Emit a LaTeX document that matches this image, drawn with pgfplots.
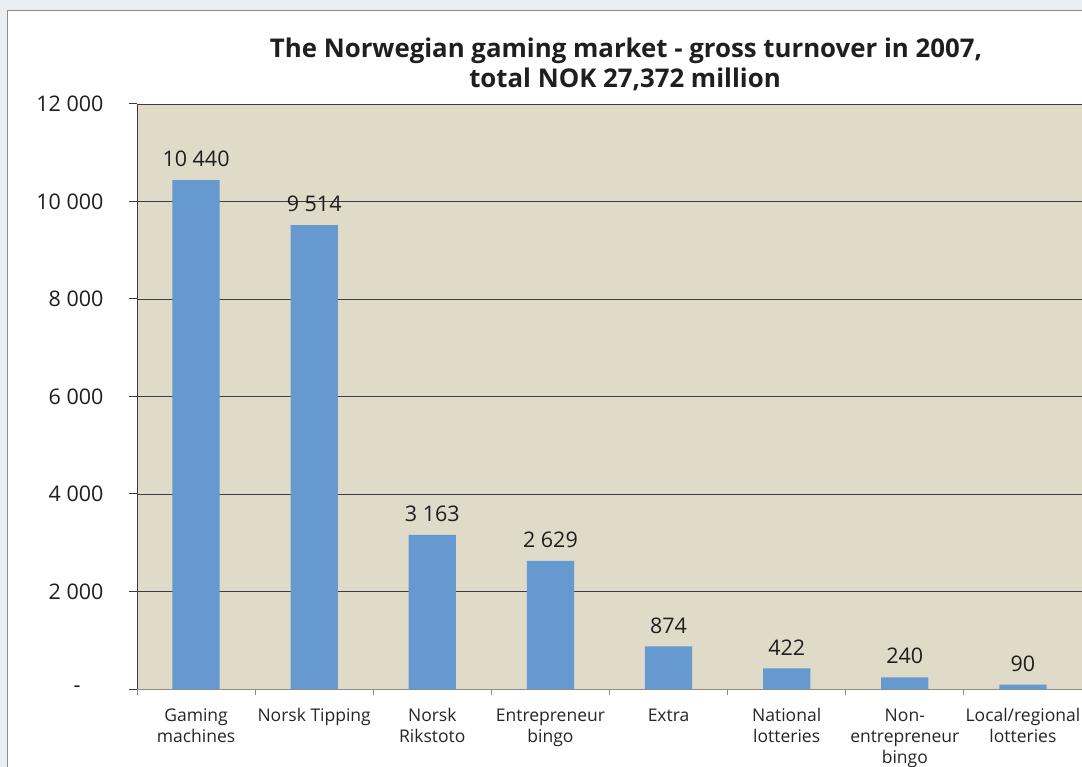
\documentclass[border=0pt]{standalone}
\usepackage{pgfplots}
\pgfplotsset{compat=1.18}
\usepackage{fontspec}
\setmainfont{Open Sans}

\definecolor{pagebg}{HTML}{E9EEF2}
\definecolor{panelborder}{HTML}{8C8C8C}
\definecolor{plotbg}{HTML}{E0DAC9}
\definecolor{barblue}{HTML}{6699D0}
\definecolor{gridc}{HTML}{3C3C3C}

\begin{document}
\begin{tikzpicture}
  \useasboundingbox (0bp,0bp) rectangle (1082bp,767bp);
  \clip (0bp,0bp) rectangle (1082bp,767bp);
  \fill[pagebg] (0bp,0bp) rectangle (1082bp,767bp);
  \filldraw[fill=white, draw=panelborder, line width=1.5bp] (7.5bp,-10bp) rectangle (1100bp,756.5bp);

  % title, two lines
  \node[font=\fontsize{25.8bp}{27bp}\selectfont\bfseries, anchor=base, text=black!88] at (626bp,709bp)
    {The Norwegian gaming market - gross turnover in 2007,};
  \node[font=\fontsize{25.8bp}{27bp}\selectfont\bfseries, anchor=base, text=black!88] at (625bp,679bp)
    {total NOK 27,372 million};

  \begin{axis}[
      at={(137bp,78bp)}, anchor=south west,
      scale only axis,
      width=945bp, height=585bp,
      ybar, bar width=0.4,
      xmin=-0.5, xmax=7.5,
      ymin=0, ymax=12000,
      scaled y ticks=false,
      axis background/.style={fill=plotbg},
      axis x line*=bottom, axis y line*=left,
      x axis line style={draw=gray!90, line width=1bp},
      y axis line style={draw=gridc, line width=1bp},
      ymajorgrids,
      major grid style={draw=gridc, line width=0.9bp},
      ytick={0,2000,...,12000},
      yticklabels={-\rule{23bp}{0bp}, 2 000, 4 000, 6 000, 8 000, 10 000, 12 000},
      xtick={0,...,7},
      xticklabels={{Gaming\\machines}, {Norsk Tipping}, {Norsk\\Rikstoto},
        {Entrepreneur\\bingo}, {Extra}, {National\\lotteries},
        {Non-\\entrepreneur\\bingo}, {Local/regional\\lotteries}},
      minor xtick={-0.5,0.5,...,7.5},
      tick align=outside,
      major x tick style={draw=none},
      minor tick length=6bp,
      major tick length=8bp,
      every tick/.style={draw=gridc, line width=1bp},
      every minor tick/.style={draw=gray!90, line width=1bp},
      yticklabel style={font=\fontsize{21.5bp}{24bp}\selectfont, text=black!88, xshift=-22bp},
      xticklabel style={font=\fontsize{17.5bp}{21bp}\selectfont, align=center, text=black!85, anchor=north, yshift=-8bp},
      nodes near coords,
      nodes near coords style={font=\fontsize{21.5bp}{24bp}\selectfont, text=black!88, anchor=center, yshift=21bp},
      point meta=explicit symbolic,
    ]
    \addplot[fill=barblue, draw=none] coordinates {
      (0,10440) [10 440]
      (1,9514) [9 514]
      (2,3163) [3 163]
      (3,2629) [2 629]
      (4,874) [874]
      (5,422) [422]
      (6,240) [240]
      (7,90) [90]
    };
  \end{axis}
\end{tikzpicture}
\end{document}
